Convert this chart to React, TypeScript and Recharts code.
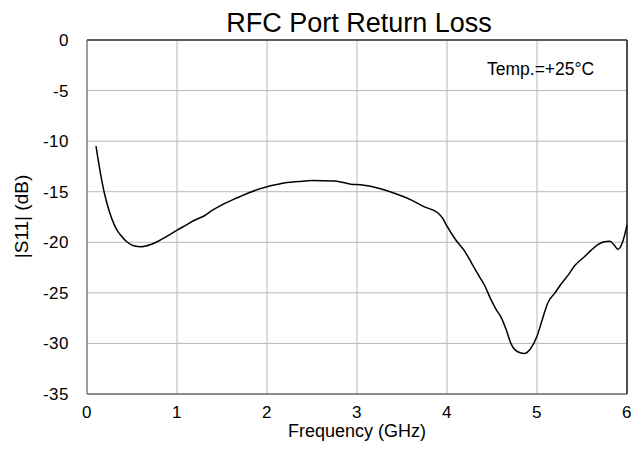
import React from "react"
import { LineChart, Line, XAxis, YAxis, CartesianGrid, ReferenceLine } from "recharts"

// frequency in GHz
const FREQ = [
  0.1, 0.15, 0.2, 0.25, 0.3, 0.33, 0.37, 0.45, 0.52, 0.6, 0.7, 0.8, 0.9, 1.0, 1.1, 1.2, 1.3, 1.4,
  1.5, 1.67, 1.8, 2.0, 2.1, 2.22, 2.35, 2.5, 2.74, 2.85, 2.93, 3.04, 3.15, 3.26, 3.4, 3.6, 3.75,
  3.9, 3.95, 4.0, 4.1, 4.19, 4.27, 4.34, 4.42, 4.49, 4.55, 4.6, 4.66, 4.71, 4.78, 4.86, 4.93, 5.0,
  5.06, 5.12, 5.2, 5.27, 5.35, 5.42, 5.53, 5.6, 5.68, 5.75, 5.81, 5.86, 5.9, 5.95, 6.0,
]

// |S11| in dB
const S11 = [
  -10.5, -13.2, -15.4, -17.0, -18.2, -18.75, -19.25, -20.0, -20.35, -20.45, -20.25, -19.85,
  -19.35, -18.8, -18.3, -17.8, -17.4, -16.8, -16.3, -15.6, -15.1, -14.5, -14.3, -14.1, -14.0,
  -13.9, -13.95, -14.1, -14.25, -14.3, -14.45, -14.7, -15.1, -15.8, -16.5, -17.1, -17.6, -18.4,
  -19.8, -20.8, -22.0, -23.1, -24.3, -25.7, -26.7, -27.4, -28.7, -30.0, -30.8, -31.0, -30.5,
  -29.3, -27.6, -26.0, -25.0, -24.1, -23.2, -22.3, -21.4, -20.8, -20.2, -19.95, -19.9, -20.3,
  -20.7, -20.0, -18.3,
]

const X_TICKS = [0, 1, 2, 3, 4, 5, 6]
const Y_TICKS = [0, -5, -10, -15, -20, -25, -30, -35]

const data = FREQ.map((f, i) => ({ f, s11: S11[i] }))

const W = 634
const H = 453
const FONT = "'Liberation Sans', Arial, sans-serif"
const tickStyle = { fill: "#000", fontSize: 17, letterSpacing: 0.5 }

export default function App() {
  return (
    <div style={{ position: "absolute", left: 0, top: 0, width: W, height: H, background: "#fff" }}>
      <LineChart
        width={W}
        height={H}
        data={data}
        margin={{ top: 40, right: 7, left: 0, bottom: 0 }}
        style={{ fontFamily: FONT }}
      >
        <CartesianGrid stroke="#b8b8b8" strokeWidth={1} />
        <XAxis
          dataKey="f"
          type="number"
          domain={[0, 6]}
          ticks={X_TICKS}
          height={59}
          tickLine={false}
          tickSize={0}
          tickMargin={12}
          stroke="#404040"
          tick={tickStyle}
        />
        <YAxis
          type="number"
          domain={[-35, 0]}
          ticks={Y_TICKS}
          width={87}
          tickLine={false}
          tickSize={0}
          tickMargin={18}
          stroke="#606060"
          tick={tickStyle}
        />
        <ReferenceLine y={0} stroke="#303030" strokeWidth={1.5} />
        <ReferenceLine x={6} stroke="#202020" strokeWidth={1.5} />
        <Line
          dataKey="s11"
          type="monotone"
          stroke="#000"
          strokeWidth={1.5}
          dot={false}
          isAnimationActive={false}
        />
      </LineChart>
      <svg
        width={W}
        height={H}
        style={{ position: "absolute", left: 0, top: 0, pointerEvents: "none", fontFamily: FONT }}
      >
        <text x={359} y={31.5} textAnchor="middle" fontSize={27} fill="#000">
          RFC Port Return Loss
        </text>
        <text x={487} y={75} fontSize={17.5} fill="#000">
          Temp.=+25°C
        </text>
        <text x={357} y={437} textAnchor="middle" fontSize={18} fill="#000">
          Frequency (GHz)
        </text>
        <text
          x={28}
          y={216.5}
          textAnchor="middle"
          fontSize={19}
          fill="#000"
          transform="rotate(-90 28 216.5)"
        >
          |S11| (dB)
        </text>
      </svg>
    </div>
  )
}
